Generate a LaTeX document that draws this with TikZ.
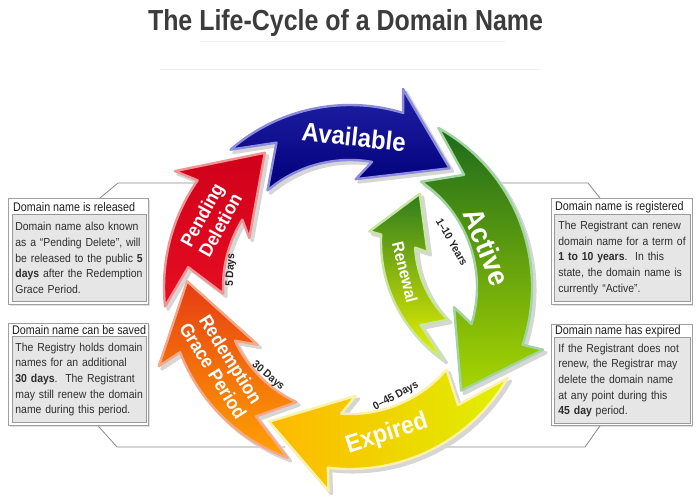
\documentclass[tikz,border=0pt]{standalone}
\usepackage{fontspec}
\setmainfont{Liberation Sans}
\newfontfamily\titlefont[FakeStretch=0.86]{Liberation Sans}
\newfontfamily\boxtfont[FakeStretch=0.86]{Liberation Sans}
\newfontfamily\boxbfont[FakeStretch=0.9]{Liberation Sans}
\newfontfamily\lblfont[FakeStretch=0.92]{Liberation Sans}
\usetikzlibrary{calc}

\definecolor{titlegray}{HTML}{3C3C3C}
\definecolor{bluetop}{HTML}{2020A6}
\definecolor{bluebot}{HTML}{00007A}
\definecolor{blueedge}{HTML}{8C8CDC}
\definecolor{greentop}{HTML}{1C6A1C}
\definecolor{greenbot}{HTML}{A8D600}
\definecolor{greenedge}{HTML}{A0D4A0}
\definecolor{yelleft}{HTML}{FFB800}
\definecolor{yelright}{HTML}{E0F000}
\definecolor{yeledge}{HTML}{FAF2A8}
\definecolor{orgtop}{HTML}{E63C14}
\definecolor{orgbot}{HTML}{FFA400}
\definecolor{orgedge}{HTML}{F8A888}
\definecolor{redtop}{HTML}{D0001A}
\definecolor{redbot}{HTML}{E60E22}
\definecolor{rededge}{HTML}{F29494}
\definecolor{rentop}{HTML}{2E7C1E}
\definecolor{renbot}{HTML}{ECF400}
\definecolor{renedge}{HTML}{C8E6A0}
\definecolor{linegray}{HTML}{8A8A8A}
\definecolor{boxedge}{HTML}{A0A0A0}
\definecolor{innerfill}{HTML}{E6E6E6}
\definecolor{inneredge}{HTML}{9A9A9A}

% arrow outlines (screen angles, clockwise from east)
\newcommand\pAvail{(229:182) arc[start angle=229, end angle=287, radius=182] -- (285:205) -- (310:155) -- (273:108) -- (280:127) arc[start angle=280, end angle=229.5, radius=127] -- (243:162) -- cycle}
\newcommand\pActive{(-61:182) arc[start angle=-61, end angle=18.5, radius=182] -- (18:203) -- (43:152) -- (11:106) -- (17:127) arc[start angle=17, end angle=-56, radius=127] -- (-44.5:160) -- cycle}
\newcommand\pExpired{(30:182) arc[start angle=30, end angle=97, radius=182] -- (96:205) -- (121:157) -- (87:109) -- (94:127) arc[start angle=94, end angle=40.6, radius=127] -- (47.5:160) -- cycle}
\newcommand\pRedemp{(110:182) arc[start angle=110, end angle=159, radius=182] -- (157.5:207) -- (182:163) -- (148:109) -- (155:127) arc[start angle=155, end angle=115, radius=127] -- (126:160) -- cycle}
\newcommand\pPending{(174:186) arc[start angle=174, end angle=215, radius=186] -- (213.5:210) -- (237.6:159) -- (206:112) -- (212:127) arc[start angle=212, end angle=177, radius=127] -- (187:163) -- cycle}
\newcommand\pRenew{(124:142) arc[start angle=124, end angle=183, radius=142] -- (184:154) -- (205:114) -- (174:96) -- (177:108) arc[start angle=177, end angle=134, radius=108] -- (141:132) -- cycle}

\begin{document}
\begin{tikzpicture}[x=1pt,y=-1pt,
  arrowbody/.style={line width=2.4pt, line join=round},
  arrowshadow/.style={fill=black!16, draw=black!16, line width=3pt, line join=round},
  arrowlbl/.style={align=center, inner sep=0pt, text=white},
  outerbox/.style={draw=boxedge, fill=white, line width=0.8pt, minimum width=140pt, minimum height=106pt, anchor=north west, inner sep=0pt},
  innerbox/.style={draw=inneredge, fill=innerfill, line width=0.8pt, minimum width=134pt, minimum height=87pt, anchor=north west, text width=128pt, inner xsep=3pt, inner ysep=3pt, align=left, font=\boxbfont\fontsize{11.6}{15.6}\selectfont, text=black!82},
  boxtitle/.style={anchor=west, inner sep=0pt, font=\boxtfont\fontsize{12.5}{14}\selectfont, text=black!88},
  conn/.style={draw=linegray, line width=0.8pt},
  smalllbl/.style={inner sep=0pt, text=black!85, font=\lblfont\bfseries\fontsize{11}{12}\selectfont}
]
\useasboundingbox (0,0) rectangle (700,500);
\fill[white] (0,0) rectangle (700,500);

% title
\node[anchor=base, inner sep=0pt, text=titlegray, font=\titlefont\bfseries\fontsize{29}{32}\selectfont] (title) at (345.5,31) {The Life-Cycle of a Domain Name};
\draw[black!6, line width=1pt] (200,42) -- (505,42);
\draw[black!6, line width=1pt] (160,70) -- (540,70);

% boxes
\fill[black!12] (10,200) rectangle (150,306);
\node[outerbox] (relbox) at (8,198) {};
\node[boxtitle] (reltitle) at (13,207) {Domain name is released};
\node[innerbox] (relin) at (12,214) {Domain name also known\\as a “Pending Delete”, will\\be released to the public \textbf{5}\\\textbf{days} after the Redemption\\Grace Period.};

\fill[black!12] (10,325) rectangle (150,427);
\node[outerbox, minimum height=102pt] (savebox) at (8,323) {};
\node[boxtitle] (savetitle) at (12,330) {Domain name can be saved};
\node[innerbox, minimum height=86pt] (savein) at (12,336) {The Registry holds domain\\names for an additional\\\textbf{30 days}.\ \ The Registrant\\may still renew the domain\\name during this period.};

\fill[black!12] (553,200) rectangle (693,306);
\node[outerbox, minimum width=141pt] (regbox) at (551,198) {};
\node[boxtitle] (regtitle) at (555,207) {Domain name is registered};
\node[innerbox, minimum width=136pt] (regin) at (554,214) {The Registrant can renew\\domain name for a term of\\\textbf{1 to 10 years}.\ \ In this\\state, the domain name is\\currently “Active”.};

\fill[black!12] (553,326) rectangle (693,427);
\node[outerbox, minimum width=141pt, minimum height=101pt] (expbox) at (551,324) {};
\node[boxtitle] (exptitle) at (555,331) {Domain name has expired};
\node[innerbox, minimum width=136pt, minimum height=86pt] (expin) at (554,337) {If the Registrant does not\\renew, the Registrar may\\delete the domain name\\at any point during this\\\textbf{45 day} period.};

% connectors (run behind the arrows)
\coordinate (luBend) at (118,183);
\coordinate (luEnd) at (235,183);
\coordinate (llBend) at (117,447);
\coordinate (llEnd) at (285,447);
\coordinate (ruBend) at (588,183);
\coordinate (ruEnd) at (470,183);
\coordinate (rlBend) at (585,447);
\coordinate (rlEnd) at (415,447);
\draw[conn] ($(relbox.north west)+(92,0)$) -- (luBend) -- (luEnd);
\draw[conn] ($(savebox.south west)+(90,0)$) -- (llBend) -- (llEnd);
\draw[conn] ($(regbox.north west)+(49,0)$) -- (ruBend) -- (ruEnd);
\draw[conn] ($(expbox.south west)+(49,0)$) -- (rlBend) -- (rlEnd);

% arrow shadows
\begin{scope}[shift={(353,290)}]
  \fill[arrowshadow] \pAvail;
  \fill[arrowshadow] \pActive;
  \fill[arrowshadow] \pExpired;
  \fill[arrowshadow] \pRedemp;
  \fill[arrowshadow] \pPending;
\end{scope}
\begin{scope}[shift={(526,245)}]
  \fill[arrowshadow] \pRenew;
\end{scope}

% arrows
\begin{scope}[shift={(350,287)}]
  \path[arrowbody, draw=blueedge, top color=bluetop, bottom color=bluebot] \pAvail;
  \path[arrowbody, draw=greenedge, top color=greentop, bottom color=greenbot] \pActive;
  \path[arrowbody, draw=yeledge, left color=yelleft, right color=yelright] \pExpired;
  \path[arrowbody, draw=orgedge, top color=orgtop, bottom color=orgbot] \pRedemp;
  \path[arrowbody, draw=rededge, top color=redtop, bottom color=redbot] \pPending;
\end{scope}
\begin{scope}[shift={(523,242)}]
  \path[arrowbody, draw=renedge, top color=rentop, bottom color=renbot] \pRenew;
\end{scope}

% arrow labels
\node[arrowlbl, rotate=-6, font=\lblfont\bfseries\fontsize{26}{28}\selectfont] (lAvail) at (354,137) {Available};
\node[arrowlbl, rotate=-68, font=\lblfont\bfseries\fontsize{29}{30}\selectfont] (lActive) at (487,247) {Active};
\node[arrowlbl, rotate=18, font=\lblfont\bfseries\fontsize{25}{26}\selectfont] (lExpired) at (387,434) {Expired};
\node[arrowlbl, rotate=-58, font=\lblfont\bfseries\fontsize{19}{21}\selectfont] (lRedemp) at (222,365) {Redemption\\Grace Period};
\node[arrowlbl, rotate=61, font=\lblfont\bfseries\fontsize{19}{21}\selectfont] (lPending) at (211,220) {Pending\\Deletion};
\node[arrowlbl, rotate=-76, font=\lblfont\bfseries\fontsize{16.5}{17}\selectfont] (lRenew) at (405,272) {Renewal};

% duration labels
\node[smalllbl, rotate=87] (d5) at (231,270) {5 Days};
\node[smalllbl, rotate=-40] (d30) at (268,376) {30 Days};
\node[smalllbl, rotate=28] (d45) at (396,396) {0–45 Days};
\node[smalllbl, rotate=-60] (d10) at (452,242) {1–10 Years};
\end{tikzpicture}
\end{document}
